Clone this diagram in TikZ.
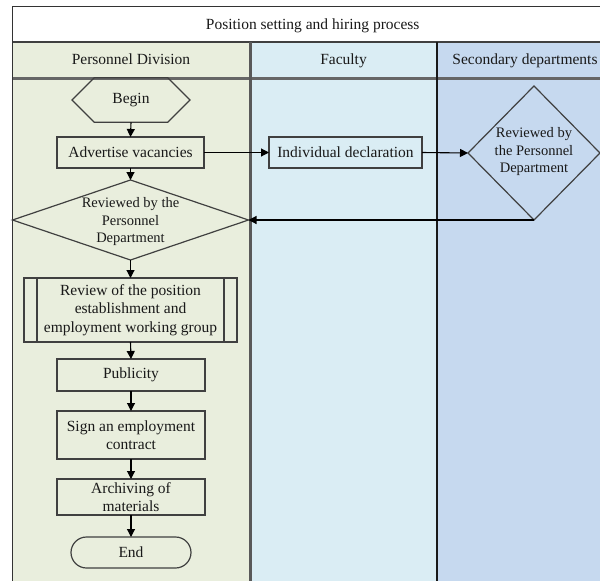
\documentclass[tikz,border=0pt]{standalone}
\usepackage{fontspec}
\setmainfont{Liberation Serif}
\usetikzlibrary{shapes.geometric,shapes.misc,arrows.meta}
\definecolor{lanea}{HTML}{E9EEDD}
\definecolor{laneb}{HTML}{DAEDF4}
\definecolor{lanec}{HTML}{C6D9EF}
\definecolor{edge}{HTML}{404040}
\begin{document}
\begin{tikzpicture}[x=1pt,y=-1pt,
  every node/.style={font=\fontsize{15.5}{18.5}\selectfont, text=black!90},
  box/.style={draw=edge, line width=1.2pt, rectangle, inner sep=0pt, outer sep=0pt, align=center, minimum width=148pt},
  hexa/.style={draw=edge, line width=1.2pt, chamfered rectangle, chamfered rectangle xsep=15pt, chamfered rectangle ysep=15.5pt, minimum width=118pt, minimum height=31pt, inner sep=0pt, outer sep=0pt},
  dia/.style={draw=edge, line width=1.2pt, diamond, inner sep=0pt, outer sep=0pt},
  diatext/.style={align=center, inner sep=0pt, font=\fontsize{14.5}{17.5}\selectfont},
  term/.style={draw=edge, line width=1.2pt, rectangle, rounded corners=15.5pt, minimum width=120pt, minimum height=31pt, inner sep=0pt, outer sep=0pt},
  arr/.style={draw=black, line width=1.1pt, -{Triangle[length=8pt,width=8pt]}},
  head/.style={font=\fontsize{15.5}{18.5}\selectfont, anchor=base}
]
\useasboundingbox (0,0) rectangle (600,581);
\begin{scope}
\clip (0,0) rectangle (600,581);
\fill[white] (0,0) rectangle (600,581);
\fill[white] (12.5,6.5) rectangle (613,42);
\fill[lanea] (12.5,42) rectangle (250,600);
\fill[laneb] (250,42) rectangle (437,600);
\fill[lanec] (437,42) rectangle (613,600);
\draw[black!80, line width=1.5pt] (12.5,600) -- (12.5,6.5) -- (613,6.5);
\draw[black!75, line width=2pt] (12.5,42) -- (613,42);
\draw[black!60, line width=3pt] (12.5,78) -- (613,78);
\draw[black!65, line width=3pt] (250,42) -- (250,600);
\draw[black!90, line width=2.5pt] (437,42) -- (437,600);
\end{scope}
\node[head] (title) at (312.7,29) {Position setting and hiring process};
\node[head] (hA) at (131,64) {Personnel Division};
\node[head] (hB) at (343.5,64) {Faculty};
\node[head] (hC) at (525,64) {Secondary departments};

\node[hexa] (begin) at (131,100) {Begin};
\node[box, minimum width=147pt, minimum height=31pt] (adv) at (130.5,152.5) {Advertise vacancies};
\node[dia, minimum width=236pt, minimum height=80pt] (d1) at (130.5,220) {};
\node[diatext] (d1t) at (130.5,222) {Reviewed by the\\Personnel\\Department};
\node[box, minimum width=153pt, minimum height=31pt] (ind) at (345.5,152.5) {Individual declaration};
\node[dia, minimum width=132pt, minimum height=134pt] (d2) at (534,153) {};
\node[diatext] (d2t) at (534,152) {Reviewed by\\the Personnel\\Department};
\node[box, minimum width=213pt, minimum height=64pt] (rev) at (130.5,310) {Review of the position\\establishment and\\employment working group};
\draw[edge, line width=1.2pt] ([xshift=13pt]rev.north west) -- ([xshift=13pt]rev.south west);
\draw[edge, line width=1.2pt] ([xshift=-13pt]rev.north east) -- ([xshift=-13pt]rev.south east);
\node[box, minimum height=32pt] (pub) at (131,375) {Publicity};
\node[box, minimum height=48pt] (sign) at (131,435) {Sign an employment\\contract};
\node[box, minimum height=36pt] (arch) at (131,497) {Archiving of\\materials};
\node[term] (end) at (131,552.5) {End};

\draw[arr] (begin.south) -- (adv.north);
\draw[arr] (adv.south) -- (d1.north);
\draw[arr] (d1.south) -- (rev.north);
\draw[arr] (rev.south) -- (pub.north);
\draw[arr] (pub.south) -- (sign.north);
\draw[arr] (sign.south) -- (arch.north);
\draw[arr] (arch.south) -- (end.north);
\draw[arr] (adv.east) -- (ind.west);
\draw[arr] (ind.east) -- (d2.west);
\draw[arr] (d2.south) -- (d1.east);
\end{tikzpicture}
\end{document}
